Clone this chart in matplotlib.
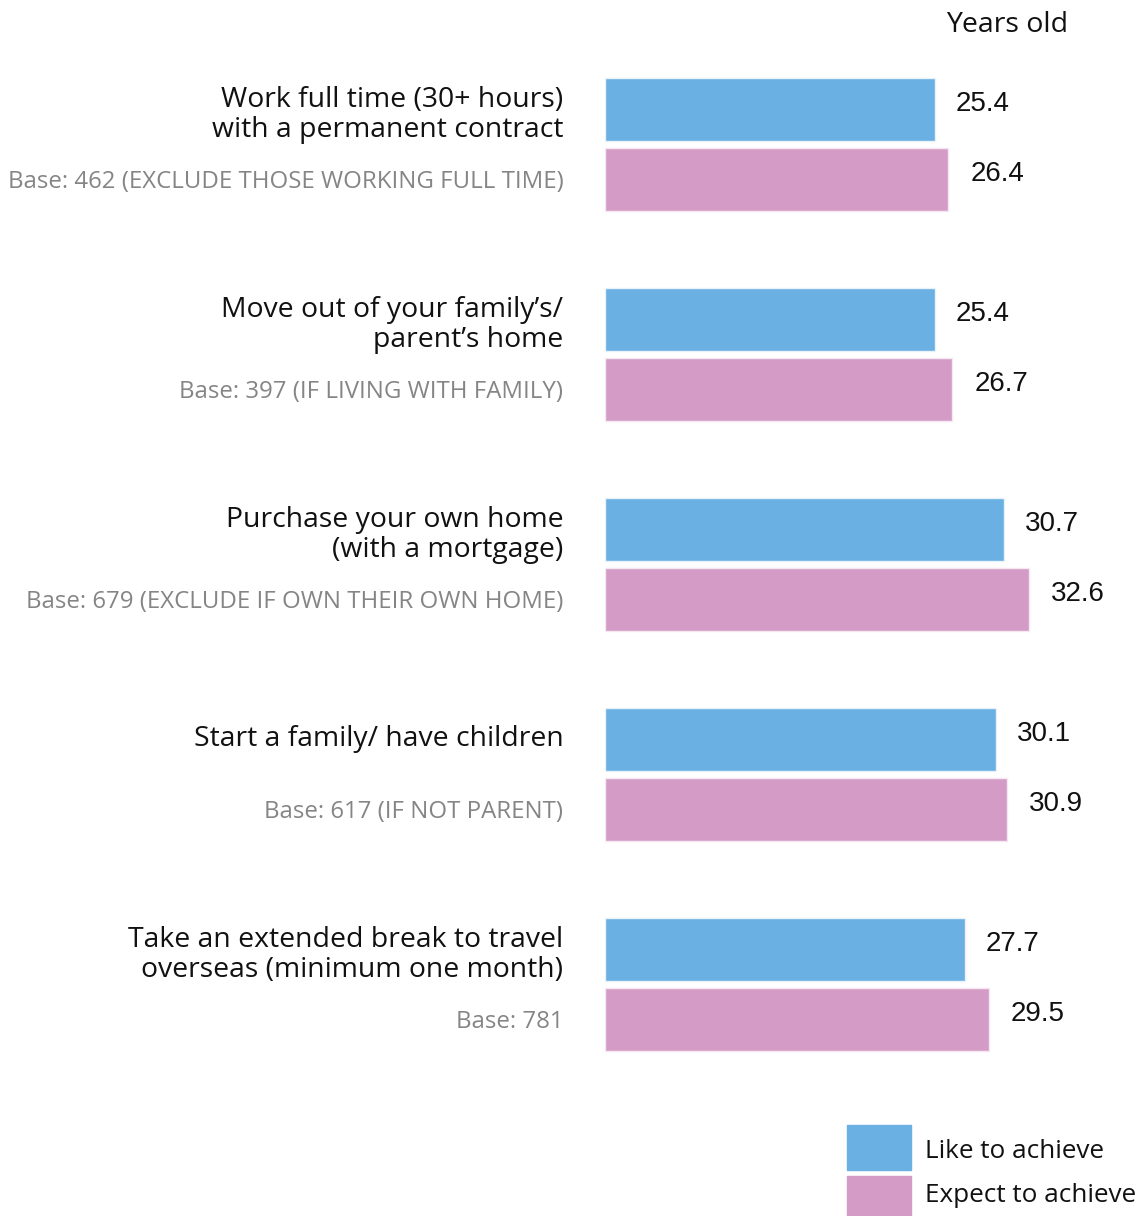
import numpy as np
import matplotlib.pyplot as plt
from matplotlib.patches import Rectangle

categories = [
    "Work full time (30+ hours)\nwith a permanent contract",
    "Move out of your family\u2019s/\nparent\u2019s home",
    "Purchase your own home\n(with a mortgage)",
    "Start a family/ have children",
    "Take an extended break to travel\noverseas (minimum one month)",
]
bases = [
    "Base: 462 (EXCLUDE THOSE WORKING FULL TIME)",
    "Base: 397 (IF LIVING WITH FAMILY)",
    "Base: 679 (EXCLUDE IF OWN THEIR OWN HOME)",
    "Base: 617 (IF NOT PARENT)",
    "Base: 781",
]
like_to = [25.4, 25.4, 30.7, 30.1, 27.7]
expect_to = [26.4, 26.7, 32.6, 30.9, 29.5]

blue = "#6AB0E2"
pink = "#D49BC7"
label_font = ["Open Sans", "DejaVu Sans"]
value_font = ["Liberation Sans", "DejaVu Sans"]

W, H = 1140, 1216
fig = plt.figure(figsize=(W / 100, H / 100), dpi=100)
ax = fig.add_axes([605 / W, 0, 535 / W, 1])
ax.set_xlim(0, 535 / 13)
ax.set_ylim((H - 144.5) / 210, -144.5 / 210)
ax.axis("off")

y = np.arange(len(categories))
off = 35 / 210
h = 63 / 210
ax.barh(y - off, like_to, height=h, color=blue, edgecolor="#e8f2fa", linewidth=1)
ax.barh(y + off, expect_to, height=h, color=pink, edgecolor="#f4e8f1", linewidth=1)

for i in range(len(categories)):
    ax.text(like_to[i] + 1.6, y[i] - off - 0.026, f"{like_to[i]}", fontsize=20,
            family=value_font, va="center", ha="left", color="#111111")
    ax.text(expect_to[i] + 1.7, y[i] + off - 0.026, f"{expect_to[i]}", fontsize=20,
            family=value_font, va="center", ha="left", color="#111111")
    dy = -0.17 if "\n" not in categories[i] else -0.14
    ax.text(-3.2, y[i] + dy, categories[i], fontsize=20.4, family=label_font,
            ha="right", va="center", linespacing=1.13, color="#111111", clip_on=False)
    ax.text(-3.2, y[i] + 0.18, bases[i], fontsize=17.3, family=label_font,
            ha="right", va="center", color="#858585", clip_on=False)

fig.text(1007 / W, 1 - 25 / H, "Years old", fontsize=20.5, family=label_font,
         ha="center", va="center", color="#111111")

# legend swatches
fig.patches.append(Rectangle((847 / W, 1 - 1170 / H), 64 / W, 45 / H,
                             transform=fig.transFigure, color=blue))
fig.patches.append(Rectangle((847 / W, 0), 64 / W, 40 / H,
                             transform=fig.transFigure, color=pink))
fig.text(925 / W, 1 - 1151 / H, "Like to achieve", fontsize=18.8, family=label_font,
         ha="left", va="center", color="#111111")
fig.text(925 / W, 1 - 1195 / H, "Expect to achieve", fontsize=18.8, family=label_font,
         ha="left", va="center", color="#111111")

fig.savefig("out.png", dpi=100, facecolor="white")
